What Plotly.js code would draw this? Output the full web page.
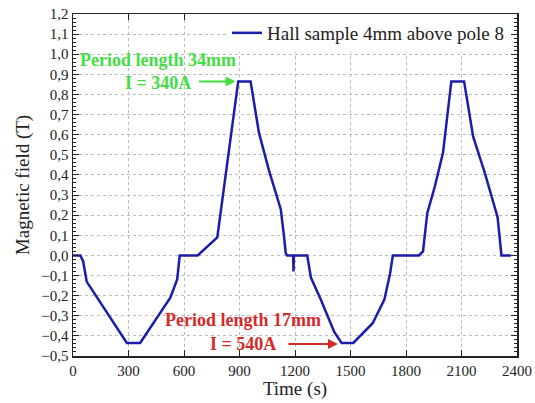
<!DOCTYPE html>
<html>
<head>
<meta charset="utf-8">
<script src="https://cdn.plot.ly/plotly-3.0.1.min.js"></script>
<style>html,body{margin:0;padding:0;background:#fff;}#chart{width:535px;height:403px;}</style>
</head>
<body>
<div id="chart"></div>
<script>
// Time (s)
var timeS = [0, 40, 55, 74, 291, 363, 526, 563, 577, 674, 780, 893, 960, 1005, 1060, 1100, 1123, 1140, 1150, 1158, 1190, 1192, 1194, 1266, 1286, 1340, 1412, 1452, 1515, 1620, 1683, 1714, 1729, 1870, 1892, 1915, 1955, 2000, 2045, 2114, 2163, 2226, 2295, 2316, 2367];
// Magnetic field (T)
var fieldT = [0, 0, -0.03, -0.13, -0.435, -0.435, -0.21, -0.12, 0, 0, 0.09, 0.865, 0.865, 0.61, 0.42, 0.30, 0.23, 0.10, 0.01, 0, 0, -0.08, 0, 0, -0.11, -0.22, -0.38, -0.435, -0.435, -0.337, -0.22, -0.09, 0, 0, 0.02, 0.21, 0.34, 0.51, 0.865, 0.865, 0.59, 0.41, 0.19, 0, 0];
var seriesName = 'Hall sample 4mm above pole 8';
var xTicks = [0, 300, 600, 900, 1200, 1500, 1800, 2100, 2400];

var font = 'Liberation Serif, Times New Roman, serif';
var green = '#44dd44', red = '#d42a2a';

var trace = {
  x: timeS, y: fieldT, type: 'scatter', mode: 'lines', name: seriesName,
  line: {color: '#1c1caa', width: 2.5}
};

var layout = {
  width: 535, height: 403,
  margin: {l: 73, r: 18, t: 14, b: 47, pad: 0},
  paper_bgcolor: '#fff', plot_bgcolor: '#fff',
  font: {family: font, size: 15, color: '#222'},
  separators: ',.',
  showlegend: true,
  legend: {x: 0.982, xanchor: 'right', y: 1.0, yanchor: 'top', bgcolor: '#fff', borderwidth: 0,
    font: {family: font, size: 19, color: '#222'}, itemwidth: 30, tracegroupgap: 0},
  xaxis: {
    range: [0, 2400], tickvals: xTicks, ticks: 'inside', ticklen: 6, tickcolor: '#222',
    mirror: 'allticks', showline: true, linecolor: '#222', linewidth: 1.5,
    showgrid: true, gridcolor: '#bbb', griddash: 'dot', gridwidth: 1, zeroline: false,
    tickfont: {family: font, size: 15, color: '#222'},
    title: {text: 'Time (s)', font: {family: font, size: 19, color: '#222'}, standoff: 1}
  },
  yaxis: {
    range: [-0.5, 1.2], dtick: 0.1, tick0: 0, tickformat: '.1f', ticks: 'inside', ticklen: 6, tickcolor: '#222',
    mirror: 'allticks', showline: true, linecolor: '#222', linewidth: 1.5,
    showgrid: true, gridcolor: '#bbb', griddash: 'dot', gridwidth: 1, zeroline: false,
    minor: {dtick: 0.02, ticks: 'inside', ticklen: 3, tickcolor: '#222', showgrid: false},
    tickfont: {family: font, size: 15, color: '#222'},
    title: {text: 'Magnetic field (T)', font: {family: font, size: 19, color: '#222'}, standoff: 6}
  },
  annotations: [
    {x: 461, y: 0.973, xref: 'x', yref: 'y', text: '<b>Period length 34mm</b>', showarrow: false,
      font: {family: font, size: 18, color: green}},
    {x: 461, y: 0.858, xref: 'x', yref: 'y', text: '<b>I = 340A</b>', showarrow: false,
      font: {family: font, size: 18, color: green}},
    {x: 879, y: 0.865, ax: 673, ay: 0.865, xref: 'x', yref: 'y', axref: 'x', ayref: 'y', text: '',
      showarrow: true, arrowhead: 2, arrowsize: 1, arrowwidth: 2, arrowcolor: green},
    {x: 920, y: -0.321, xref: 'x', yref: 'y', text: '<b>Period length 17mm</b>', showarrow: false,
      font: {family: font, size: 18, color: red}},
    {x: 920, y: -0.44, xref: 'x', yref: 'y', text: '<b>I = 540A</b>', showarrow: false,
      font: {family: font, size: 18, color: red}},
    {x: 1432, y: -0.44, ax: 1156, ay: -0.44, xref: 'x', yref: 'y', axref: 'x', ayref: 'y', text: '',
      showarrow: true, arrowhead: 2, arrowsize: 1, arrowwidth: 2, arrowcolor: red}
  ]
};

Plotly.newPlot('chart', [trace], layout, {staticPlot: true, displayModeBar: false});
</script>
</body>
</html>
